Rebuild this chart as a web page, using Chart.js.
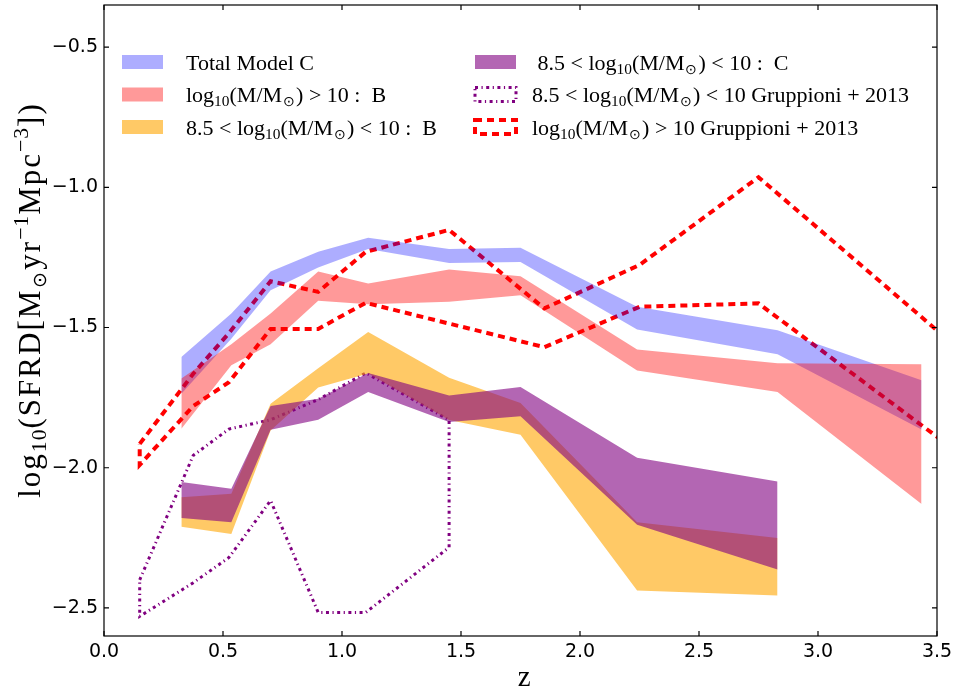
<!DOCTYPE html>
<html>
<head>
<meta charset="utf-8">
<script src="https://cdn.jsdelivr.net/npm/chart.js@4/dist/chart.umd.min.js"></script>
<style>
html,body{margin:0;padding:0;background:#fff;overflow:hidden}
#wrap{position:relative;width:953px;height:693px}
</style>
</head>
<body>
<div id="wrap"><canvas id="c" width="953" height="693"></canvas></div>
<script>
// ---------- data ----------
const zModel = [0.325, 0.535, 0.70, 0.90, 1.11, 1.45, 1.75, 2.24, 2.83, 3.435];
const totalCUpper = [-1.605, -1.45, -1.30, -1.23, -1.18, -1.22, -1.216, -1.426, -1.51, -1.688];
const totalCLower = [-1.736, -1.54, -1.367, -1.286, -1.22, -1.27, -1.266, -1.507, -1.595, -1.864];
const highBUpper = [-1.682, -1.56, -1.45, -1.30, -1.343, -1.293, -1.317, -1.578, -1.627, -1.631];
const highBLower = [-1.861, -1.635, -1.56, -1.405, -1.417, -1.408, -1.385, -1.653, -1.73, -2.129];

const zModelLow = [0.325, 0.535, 0.70, 0.90, 1.11, 1.45, 1.75, 2.24, 2.83];
const lowBUpper = [-2.105, -2.093, -1.772, -1.645, -1.516, -1.679, -1.769, -2.194, -2.251];
const lowBLower = [-2.21, -2.236, -1.867, -1.714, -1.664, -1.83, -1.882, -2.438, -2.456];
const lowCUpper = [-2.051, -2.075, -1.78, -1.754, -1.662, -1.742, -1.712, -1.964, -2.049];
const lowCLower = [-2.179, -2.194, -1.865, -1.829, -1.73, -1.837, -1.816, -2.203, -2.363];

const zGrupHigh = [0.15, 0.375, 0.525, 0.70, 0.90, 1.10, 1.45, 1.85, 2.25, 2.75, 3.60];
const grupHighUpper = [-1.915, -1.665, -1.52, -1.335, -1.373, -1.23, -1.152, -1.432, -1.277, -0.964, -1.583];
const grupHighLower = [-1.99, -1.78, -1.695, -1.505, -1.505, -1.412, -1.486, -1.57, -1.426, -1.414, -1.953];

const zGrupLow = [0.15, 0.375, 0.525, 0.70, 0.90, 1.10, 1.45];
const grupLowUpper = [-2.40, -1.956, -1.862, -1.829, -1.757, -1.662, -1.83];
const grupLowLower = [-2.53, -2.41, -2.32, -2.117, -2.516, -2.516, -2.284];

const seriesLabels = [
  'Total Model C',
  'log₁₀(M/M⊙) > 10 :  B',
  '8.5 < log₁₀(M/M⊙) < 10 :  B',
  ' 8.5 < log₁₀(M/M⊙) < 10 :  C',
  '8.5 < log₁₀(M/M⊙) < 10 Gruppioni + 2013',
  'log₁₀(M/M⊙) > 10 Gruppioni + 2013'
];

const xTicks = [0, 0.5, 1.0, 1.5, 2.0, 2.5, 3.0, 3.5];
const xTickLabels = ['0.0', '0.5', '1.0', '1.5', '2.0', '2.5', '3.0', '3.5'];
const yTicks = [-2.5, -2.0, -1.5, -1.0, -0.5];
const yTickLabels = ['\u22122.5', '\u22122.0', '\u22121.5', '\u22121.0', '\u22120.5'];

const xTitle = 'z';
const yTitle = 'log₁₀(SFRD[M⊙yr⁻¹Mpc⁻³])';

// ---------- helpers ----------
const pts = (xs, ys) => xs.map((x, i) => ({x: x, y: ys[i]}));
const ring = (xs, up, lo) => {
  const a = pts(xs, up);
  const b = pts(xs, lo).reverse();
  return a.concat(b, [a[0]]);
};

const COL = {
  blue: 'rgba(0,0,255,0.32)',
  red: 'rgba(255,0,0,0.40)',
  orange: 'rgba(255,165,0,0.60)',
  purple: 'rgba(128,0,128,0.60)',
  dashRed: '#ff0000',
  dashPurple: '#800080'
};
const DASH_RED = [7, 5];
const DASH_PURPLE = [3, 3.5, 1.2, 3.5];

function band(label, xs, ys, color, fillTarget, order) {
  return {
    label: label, data: pts(xs, ys), backgroundColor: color,
    borderColor: 'rgba(0,0,0,0)', borderWidth: 1, fill: fillTarget,
    pointRadius: 0, pointHoverRadius: 0, tension: 0, order: order, clip: 0
  };
}

const datasets = [
  band(seriesLabels[0], zModel, totalCUpper, COL.blue, 1, 8),
  band('', zModel, totalCLower, COL.blue, false, 8),
  band(seriesLabels[1], zModel, highBUpper, COL.red, 3, 6),
  band('', zModel, highBLower, COL.red, false, 6),
  band(seriesLabels[2], zModelLow, lowBUpper, COL.orange, 5, 4),
  band('', zModelLow, lowBLower, COL.orange, false, 4),
  band(seriesLabels[3], zModelLow, lowCUpper, COL.purple, 7, 2),
  band('', zModelLow, lowCLower, COL.purple, false, 2),
  {
    label: seriesLabels[4], data: ring(zGrupLow, grupLowUpper, grupLowLower),
    borderColor: COL.dashPurple, borderWidth: 3, borderDash: DASH_PURPLE,
    fill: false, pointRadius: 0, pointHoverRadius: 0, tension: 0, order: 10, clip: 0
  },
  {
    label: seriesLabels[5], data: ring(zGrupHigh, grupHighUpper, grupHighLower),
    borderColor: COL.dashRed, borderWidth: 4, borderDash: DASH_RED,
    fill: false, pointRadius: 0, pointHoverRadius: 0, tension: 0, order: 10, clip: 0
  }
];

const legendItems = [
  {ds: 0, col: 0, row: 0, kind: 'fill'},
  {ds: 2, col: 0, row: 1, kind: 'fill'},
  {ds: 4, col: 0, row: 2, kind: 'fill'},
  {ds: 6, col: 1, row: 0, kind: 'fill'},
  {ds: 8, col: 1, row: 1, kind: 'line'},
  {ds: 9, col: 1, row: 2, kind: 'line'}
];

// subscript / superscript rendering of the unicode characters in labels
const SUBS = {'₀':'0','₁':'1','₂':'2','₃':'3','₄':'4','₅':'5','₆':'6','₇':'7','₈':'8','₉':'9','⊙':'⊙'};
const SUPS = {'⁻':'\u2212','¹':'1','²':'2','³':'3'};
function drawRich(ctx, text, x, y, size, family, track) {
  track = track || 0;
  let cx = x, buf = '';
  const flush = () => {
    if (!buf) return;
    ctx.font = size + 'px ' + family;
    if (track) {
      for (const c of buf) { ctx.fillText(c, cx, y); cx += ctx.measureText(c).width + track; }
    } else {
      ctx.fillText(buf, cx, y);
      cx += ctx.measureText(buf).width;
    }
    buf = '';
  };
  for (const ch of text) {
    if (SUBS[ch] !== undefined) {
      flush();
      const s = ch === '⊙' ? size * 0.62 : size * 0.7;
      ctx.font = s + 'px ' + family;
      ctx.fillText(SUBS[ch], cx + (ch === '⊙' ? 1 : 0), y + size * 0.2);
      cx += ctx.measureText(SUBS[ch]).width + (ch === '⊙' ? 2 : 0) + track * 0.5;
    } else if (SUPS[ch] !== undefined) {
      flush();
      ctx.font = (size * 0.7) + 'px ' + family;
      ctx.fillText(SUPS[ch], cx, y - size * 0.38);
      cx += ctx.measureText(SUPS[ch]).width + track * 0.5;
    } else buf += ch;
  }
  flush();
  return cx - x;
}
function richWidth(ctx, text, size, family, track) {
  ctx.save();
  ctx.globalAlpha = 0;
  const w = drawRich(ctx, text, -9999, -9999, size, family, track);
  ctx.restore();
  return w;
}

const SERIF = '"Liberation Serif", serif';

const framePlugin = {
  id: 'frame',
  afterDatasetsDraw(chart) {
    const ctx = chart.ctx;
    const {left, right, top, bottom} = chart.chartArea;
    const xs = chart.scales.x, ys = chart.scales.y;
    ctx.save();
    ctx.strokeStyle = '#000';
    ctx.lineWidth = 1.2;
    ctx.strokeRect(left, top, right - left, bottom - top);
    const tl = 5;
    ctx.beginPath();
    xTicks.forEach(v => {
      const p = xs.getPixelForValue(v);
      ctx.moveTo(p, bottom); ctx.lineTo(p, bottom - tl);
      ctx.moveTo(p, top); ctx.lineTo(p, top + tl);
    });
    yTicks.forEach(v => {
      const p = ys.getPixelForValue(v);
      ctx.moveTo(left, p); ctx.lineTo(left + tl, p);
      ctx.moveTo(right, p); ctx.lineTo(right - tl, p);
    });
    ctx.stroke();

    // legend inside the axes
    const colPatchX = [left + 18, left + 371];
    const colTextX = [left + 82, left + 428];
    const rowY = [62, 94.5, 127];
    const pw = 41, ph = 14;
    legendItems.forEach(it => {
      const ds = chart.data.datasets[it.ds];
      const px = colPatchX[it.col], cy = rowY[it.row];
      if (it.kind === 'fill') {
        ctx.fillStyle = ds.backgroundColor;
        ctx.fillRect(px, cy - ph / 2, pw, ph);
      } else {
        ctx.strokeStyle = ds.borderColor;
        ctx.lineWidth = ds.borderWidth;
        ctx.setLineDash(ds.borderDash);
        ctx.strokeRect(px, cy - ph / 2, pw, ph);
        ctx.setLineDash([]);
      }
      ctx.fillStyle = '#000';
      ctx.textBaseline = 'alphabetic';
      ctx.textAlign = 'left';
      drawRich(ctx, ds.label, colTextX[it.col], cy + 7.5, 22, SERIF);
    });

    // y axis title (rotated, with sub/superscripts)
    const size = 31, track = 2.0;
    const w = richWidth(ctx, yTitle, size, SERIF, track);
    ctx.translate(40, 300);
    ctx.rotate(-Math.PI / 2);
    ctx.fillStyle = '#000';
    ctx.textBaseline = 'alphabetic';
    drawRich(ctx, yTitle, -w / 2, 0, size, SERIF, track);
    ctx.restore();
  }
};

new Chart(document.getElementById('c'), {
  type: 'line',
  data: {datasets: datasets},
  plugins: [framePlugin],
  options: {
    responsive: false,
    animation: false,
    devicePixelRatio: 1,
    events: [],
    layout: {padding: {left: 0, right: 16, top: 5, bottom: 0}},
    plugins: {legend: {display: false}, tooltip: {enabled: false}},
    scales: {
      x: {
        type: 'linear', min: 0, max: 3.5,
        afterBuildTicks: s => { s.ticks = xTicks.map(v => ({value: v})); },
        afterFit: s => { s.height = 57; s.paddingLeft = 0; s.paddingRight = 0; },
        grid: {display: false, drawTicks: false},
        border: {display: false},
        ticks: {
          autoSkip: false, maxRotation: 0, padding: 5, color: '#000',
          font: {family: '"DejaVu Sans", sans-serif', size: 19},
          callback: (v, i) => xTickLabels[i]
        },
        title: {
          display: true, text: ' ' + xTitle, color: '#000',
          font: {family: SERIF, size: 29, lineHeight: 1},
          padding: {top: 0, bottom: 0}
        }
      },
      y: {
        type: 'linear', min: -2.6, max: -0.35,
        afterBuildTicks: s => { s.ticks = yTicks.map(v => ({value: v})); },
        afterFit: s => { s.width = 104; s.paddingTop = 0; s.paddingBottom = 0; },
        grid: {display: false, drawTicks: false},
        border: {display: false},
        ticks: {
          autoSkip: false, padding: 6, color: '#000',
          font: {family: '"DejaVu Sans", sans-serif', size: 19},
          callback: (v, i) => yTickLabels[i]
        },
        title: {display: false, text: yTitle}
      }
    }
  }
});
</script>
</body>
</html>
